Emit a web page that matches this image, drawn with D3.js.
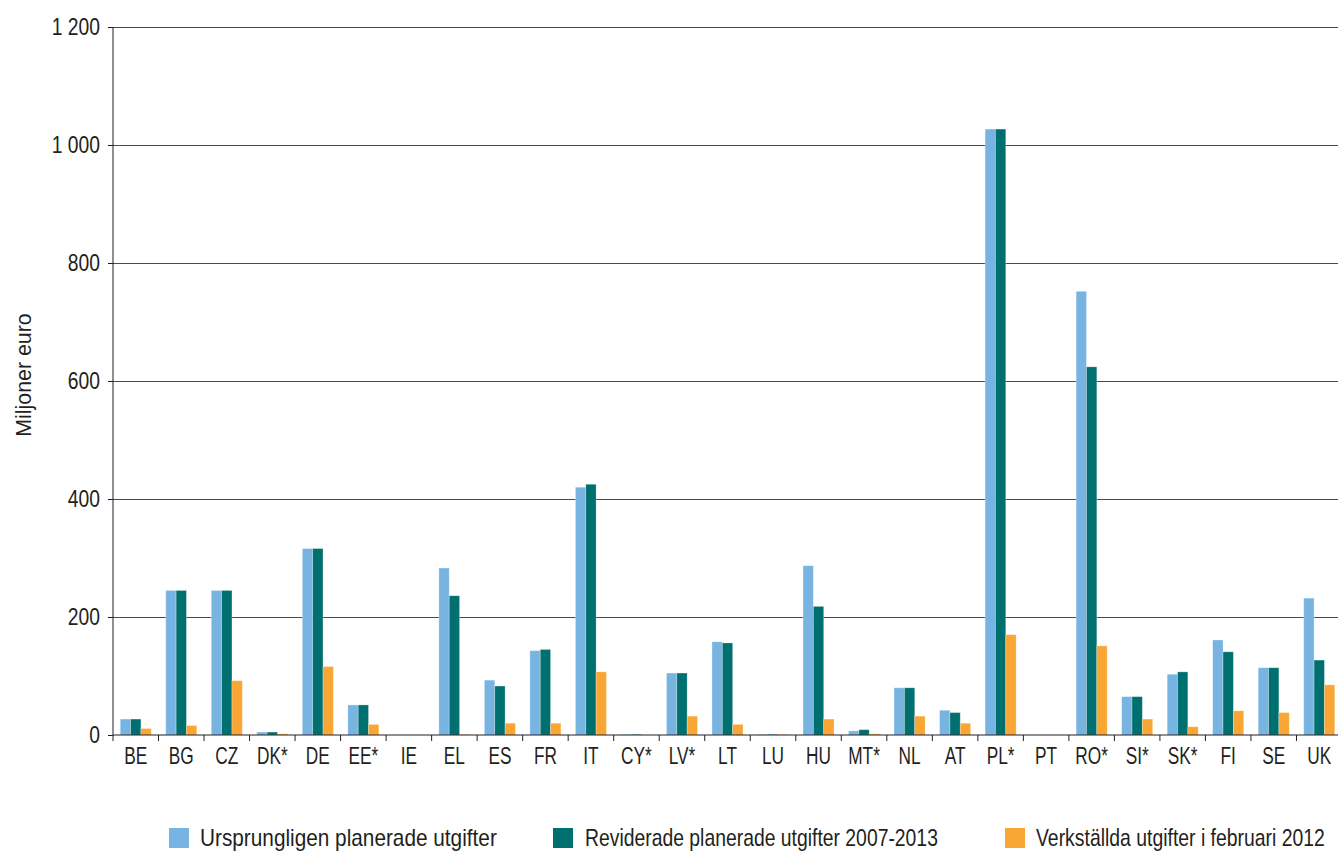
<!DOCTYPE html>
<html>
<head>
<meta charset="utf-8">
<script src="https://cdn.jsdelivr.net/npm/d3@7"></script>
<style>
  html, body { margin: 0; padding: 0; background: #fff; }
  svg { display: block; }
  text { font-family: "Liberation Sans", Arial, sans-serif; fill: #231f20; }
</style>
</head>
<body>
<svg id="chart" width="1338" height="852"></svg>
<script>
// Member states
const categories = ["BE","BG","CZ","DK*","DE","EE*","IE","EL","ES","FR","IT","CY*","LV*","LT","LU","HU","MT*","NL","AT","PL*","PT","RO*","SI*","SK*","FI","SE","UK"];

// Series names (legend)
const seriesNames = [
  "Ursprungligen planerade utgifter",
  "Reviderade planerade utgifter 2007-2013",
  "Verkställda utgifter i februari 2012"
];

// Values, million euro
const planned  = [27,245,245,5,316,51,0,283,93,143,420,1,105,158,1,287,7,80,42,1027,0,752,65,103,161,114,232];
const revised  = [27,245,245,5,316,51,0,236,83,145,425,1,105,156,1,218,9,80,38,1027,0,624,65,107,141,114,127];
const executed = [11,16,92,2,116,18,0,1,20,20,107,0,32,18,1,27,2,32,20,170,0,151,27,14,41,38,85];

// Y-axis ticks
const yTicks = [0,200,400,600,800,1000,1200];

const colors = ["#78b4e2", "#006f6f", "#f9a634"];
const seriesValues = [planned, revised, executed];

// Horizontal squeeze to give a condensed look to the sans-serif text
const SQ_Y = 0.84, SQ_X = 0.72;

const svg = d3.select("#chart");

const x = d3.scaleBand().domain(categories).range([113, 1342]).paddingInner(0).paddingOuter(0);
const xs = d3.scaleBand().domain(d3.range(3)).range([0, x.bandwidth()]).paddingInner(0).paddingOuter(0.7);
const y = d3.scaleLinear().domain([0, 1200]).range([735, 27]);

// Thousands separated by a space
const fmt = v => v >= 1000 ? Math.floor(v / 1000) + " " + String(v % 1000).padStart(3, "0") : String(v);

// Horizontal gridlines
svg.append("g")
  .selectAll("line")
  .data(yTicks.filter(t => t > 0))
  .join("line")
  .attr("x1", 113).attr("x2", 1338)
  .attr("y1", d => y(d)).attr("y2", d => y(d))
  .attr("stroke", "#4a4a4a").attr("stroke-width", 1)
  .attr("shape-rendering", "crispEdges");

// Bars
const rows = categories.map((c, i) => ({ c, vals: seriesValues.map(s => s[i]) }));
const groups = svg.append("g")
  .selectAll("g")
  .data(rows)
  .join("g")
  .attr("transform", d => `translate(${x(d.c)},0)`);

groups.selectAll("rect")
  .data(d => d.vals.map((v, k) => ({ v, k })))
  .join("rect")
  .attr("x", d => xs(d.k))
  .attr("width", xs.bandwidth())
  .attr("y", d => y(d.v))
  .attr("height", d => y(0) - y(d.v))
  .attr("fill", d => colors[d.k])
  .attr("stroke", "rgba(255,255,255,0.35)")
  .attr("stroke-width", 0.8);

// Y axis
const yAxis = d3.axisLeft(y)
  .tickValues(yTicks)
  .tickFormat(fmt)
  .tickSize(5)
  .tickPadding(8);

const gy = svg.append("g").attr("transform", "translate(113,0)").call(yAxis);
gy.select(".domain").attr("stroke", "#231f20").attr("d", `M0,${y(1200)}V${y(0)}`);
gy.selectAll(".tick line").attr("stroke", "#231f20");
gy.selectAll(".tick text")
  .attr("font-family", "Liberation Sans, Arial, sans-serif")
  .attr("font-size", 23)
  .attr("fill", "#231f20")
  .attr("x", -13 / SQ_Y)
  .attr("transform", `scale(${SQ_Y},1)`);

// X axis: labels centred on bands, ticks at band boundaries
const xAxis = d3.axisBottom(x).tickSize(0).tickPadding(12);
const gx = svg.append("g").attr("transform", `translate(0,${y(0)})`).call(xAxis);
gx.select(".domain").attr("stroke", "#231f20").attr("d", "M113,0H1338");
gx.selectAll(".tick text")
  .attr("font-family", "Liberation Sans, Arial, sans-serif")
  .attr("font-size", 24)
  .attr("fill", "#231f20")
  .attr("transform", `scale(${SQ_X},1)`);

const boundaries = categories.map(c => x(c)).concat([x.range()[1]]).filter(v => v <= 1338);
gx.append("g")
  .selectAll("line")
  .data(boundaries)
  .join("line")
  .attr("x1", d => d).attr("x2", d => d)
  .attr("y1", 0).attr("y2", 6)
  .attr("stroke", "#231f20");

// Y-axis title
svg.append("text")
  .attr("transform", "translate(31,375) rotate(-90) scale(0.93,1)")
  .attr("text-anchor", "middle")
  .attr("font-size", 23)
  .text("Miljoner euro");

// Legend: each label squeezed horizontally to its target width
const legendItems = [
  { sx: 169, tx: 200, tw: 297 },
  { sx: 553, tx: 585, tw: 353 },
  { sx: 1005, tx: 1036, tw: 289 }
];
const lg = svg.append("g");
legendItems.forEach((it, k) => {
  lg.append("rect")
    .attr("x", it.sx).attr("y", 828)
    .attr("width", 20).attr("height", 20)
    .attr("fill", colors[k]);
  const t = lg.append("text")
    .attr("x", 0).attr("y", 0)
    .attr("font-size", 24)
    .text(seriesNames[k]);
  const natural = t.node().getComputedTextLength();
  t.attr("transform", `translate(${it.tx},846) scale(${it.tw / natural},1)`);
});
</script>
</body>
</html>
